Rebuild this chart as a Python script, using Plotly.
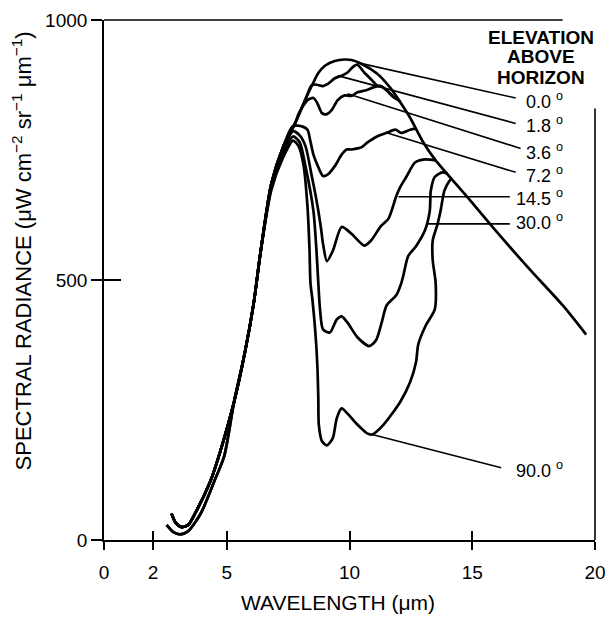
import plotly.graph_objects as go

# ---------------- data (wavelength in um, radiance in uW cm-2 sr-1 um-1) ----------------
# two visible starts at the short-wavelength end
wl_start_upper = [2.75, 2.91, 3.15, 3.43, 3.71, 4.34, 4.74, 5.30]
rad_start_upper = [51, 34, 25, 29, 51, 114, 171, 266]
wl_start_lower = [2.55, 2.83, 3.11, 3.43, 3.94, 4.50, 4.90, 5.30]
rad_start_lower = [29, 15, 11, 17, 51, 114, 162, 266]
# shared steep rise
wl_rise = [5.74, 6.10, 6.37]
rad_rise = [361, 456, 551]

elevations = ["0.0", "1.8", "3.6", "7.2", "14.5", "30.0", "90.0"]
start_branch = ["upper", "upper", "upper", "upper", "upper", "lower", "lower"]

wl_e00 = [6.81, 7.29, 7.81, 8.21, 8.49, 8.73, 9.00, 9.40, 9.80, 10.08, 10.48, 11.12, 11.67,
          12.07, 12.47, 12.99, 13.51, 14.70, 16.06, 17.37, 18.69, 19.64]
rad_e00 = [684, 755, 804, 848, 876, 898, 912, 921, 924, 923, 916, 897, 869,
           842, 812, 766, 730, 665, 589, 519, 451, 395]

wl_e18 = [6.81, 7.29, 7.81, 8.21, 8.45, 8.61, 8.92, 9.12, 9.40, 9.68, 9.92, 10.12, 10.32,
          10.60, 10.92, 11.12, 11.27, 11.51, 11.79, 11.99, 12.07]
rad_e18 = [684, 755, 804, 848, 874, 876, 873, 877, 888, 893, 899, 909, 914,
           899, 884, 874, 873, 865, 852, 846, 842]

wl_e36 = [6.81, 7.29, 7.81, 7.93, 8.29, 8.53, 8.69, 8.88, 9.08, 9.28, 9.52, 9.80, 10.08,
          10.32, 10.68, 11.00, 11.27, 11.51, 11.79, 11.99]
rad_e36 = [684, 755, 804, 820, 846, 850, 840, 821, 819, 827, 846, 855, 854,
           861, 865, 871, 873, 865, 852, 846]

wl_e72 = [6.81, 7.29, 7.69, 8.09, 8.29, 8.41, 8.53, 8.73, 8.92, 9.12, 9.40, 9.68, 9.88,
          10.08, 10.32, 10.48, 10.72, 11.12, 11.51, 11.87, 12.11, 12.47, 12.71]
rad_e72 = [684, 755, 796, 795, 789, 766, 741, 717, 700, 703, 719, 741, 751,
           751, 753, 755, 764, 776, 783, 789, 783, 789, 791]

wl_e145 = [6.81, 7.29, 7.70, 7.97, 8.21, 8.45, 8.61, 8.73, 8.84, 8.92, 9.08, 9.32, 9.68,
           10.08, 10.60, 10.88, 11.27, 11.59, 11.91, 12.07, 12.31, 12.67, 13.07, 13.51]
rad_e145 = [680, 748, 786, 778, 757, 703, 665, 633, 599, 570, 536, 556, 602,
            589, 566, 576, 603, 618, 662, 679, 698, 726, 732, 730]

wl_e300 = [6.81, 7.29, 7.70, 7.97, 8.21, 8.53, 8.65, 8.73, 8.80, 8.92, 9.20, 9.48, 9.68,
           9.92, 10.32, 10.80, 11.08, 11.31, 11.51, 11.91, 12.11, 12.19, 12.39, 12.71,
           13.07, 13.27, 13.31, 13.47, 13.78, 13.98]
rad_e300 = [676, 742, 776, 765, 718, 633, 560, 494, 443, 405, 399, 424, 430,
            418, 390, 373, 384, 418, 451, 471, 494, 508, 546, 565,
            595, 633, 671, 698, 707, 705]

wl_e900 = [6.81, 7.29, 7.70, 7.93, 8.13, 8.29, 8.37, 8.41, 8.49, 8.61, 8.69, 8.73, 8.75,
           8.88, 9.08, 9.32, 9.48, 9.68, 9.92, 10.32, 10.72, 10.92, 11.39, 12.07, 12.47,
           12.71, 12.80, 13.11, 13.47, 13.51, 13.39, 13.39, 13.59, 13.71, 13.86, 14.06, 14.18]
rad_e900 = [672, 735, 768, 757, 720, 640, 560, 494, 462, 399, 336, 272, 222,
            190, 182, 196, 234, 253, 243, 222, 205, 203, 222, 266, 304,
            342, 376, 413, 443, 494, 538, 576, 608, 633, 671, 690, 696]

curve_wl = [wl_e00, wl_e18, wl_e36, wl_e72, wl_e145, wl_e300, wl_e900]
curve_rad = [rad_e00, rad_e18, rad_e36, rad_e72, rad_e145, rad_e300, rad_e900]

# leader lines: point on curve -> label
leader_curve_wl = [10.32, 9.52, 9.92, 11.51, 11.99, 13.19, 10.92]
leader_curve_rad = [918, 893, 858, 783, 660, 608, 203]
leader_label_wl = [16.77, 16.77, 16.97, 16.77, 16.53, 16.53, 16.18]
leader_label_rad = [850, 801, 753, 707, 660, 608, 139]
label_rad = [846, 800, 747, 703, 658, 612, 135]

header_lines = ["ELEVATION", "ABOVE", "HORIZON"]
header_rad = [967, 929, 889]

x_ticks = [0, 2, 5, 10, 15, 20]
y_ticks = [0, 500, 1000]

FONT = "Liberation Sans, Arial, Helvetica, sans-serif"

fig = go.Figure()

for i, name in enumerate(elevations):
    if start_branch[i] == "upper":
        xs = wl_start_upper + wl_rise + curve_wl[i]
        ys = rad_start_upper + rad_rise + curve_rad[i]
    else:
        xs = wl_start_lower + wl_rise + curve_wl[i]
        ys = rad_start_lower + rad_rise + curve_rad[i]
    fig.add_trace(go.Scatter(x=xs, y=ys, mode="lines", name=name + "°",
                             line=dict(color="black", width=2.7, shape="spline", smoothing=0.7),
                             hoverinfo="skip"))

for i, name in enumerate(elevations):
    fig.add_trace(go.Scatter(x=[leader_curve_wl[i], leader_label_wl[i]],
                             y=[leader_curve_rad[i], leader_label_rad[i]],
                             mode="lines", line=dict(color="black", width=1.6),
                             hoverinfo="skip"))
    fig.add_annotation(x=18.73, y=label_rad[i], xref="x", yref="y",
                       text=name + " <sup>o</sup>", showarrow=False,
                       xanchor="right", yanchor="middle", borderpad=0,
                       font=dict(family=FONT, size=18, color="black"))

# dummy trace for the overlay axes (inside ticks)
fig.add_trace(go.Scatter(x=[None], y=[None], xaxis="x2", yaxis="y2", hoverinfo="skip"))

for txt, yv in zip(header_lines, header_rad):
    fig.add_annotation(x=17.8, y=yv, xref="x", yref="y",
                       text="<b>" + txt + "</b>", showarrow=False,
                       xanchor="center", yanchor="middle", borderpad=0,
                       font=dict(family=FONT, size=19, color="black"))

fig.add_annotation(x=0.476, y=-0.12, xref="paper", yref="paper",
                   text="WAVELENGTH (μm)", showarrow=False,
                   xanchor="center", yanchor="middle",
                   font=dict(family=FONT, size=21, color="black"))
fig.add_annotation(x=-0.167, y=0.555, xref="paper", yref="paper",
                   text="SPECTRAL RADIANCE (μW cm<sup>−2</sup> sr<sup>−1</sup> μm<sup>−1</sup>)",
                   textangle=-90, showarrow=False,
                   xanchor="center", yanchor="middle",
                   font=dict(family=FONT, size=22, color="black"))

# partial frame (top and right), interrupted by the header block
fig.add_shape(type="line", xref="paper", yref="paper", x0=0, x1=0.934, y0=1, y1=1,
              line=dict(color="black", width=1.6))
fig.add_shape(type="line", xref="paper", yref="paper", x0=1, x1=1, y0=0, y1=0.83,
              line=dict(color="black", width=1.6))

axis_common = dict(showgrid=False, zeroline=False, color="black")
fig.update_layout(
    width=616, height=620,
    margin=dict(l=104, r=10, t=14, b=80),
    plot_bgcolor="white", paper_bgcolor="white",
    showlegend=False,
    font=dict(family=FONT, size=19, color="black"),
    xaxis=dict(range=[0, 20], tickvals=x_ticks, ticks="outside", ticklen=8, tickwidth=1.5,
               tickcolor="black", showline=True, linewidth=1.6, linecolor="black",
               ticklabelstandoff=6, ticklabeloverflow="allow",
               tickfont=dict(size=19), **axis_common),
    yaxis=dict(range=[0, 1000], tickvals=y_ticks, ticks="outside", ticklen=11, tickwidth=1.5,
               tickcolor="black", showline=True, linewidth=1.6, linecolor="black",
               ticklabeloverflow="allow", tickfont=dict(size=19), **axis_common),
    xaxis2=dict(range=[0, 20], tickvals=x_ticks[1:-1], ticks="inside", ticklen=9, tickwidth=1.5,
                tickcolor="black", showticklabels=False, overlaying="x", showline=False,
                **axis_common),
    yaxis2=dict(range=[0, 1000], tickvals=[500], ticks="inside", ticklen=17, tickwidth=1.5,
                tickcolor="black", showticklabels=False, overlaying="y", showline=False,
                **axis_common),
)

fig.write_html("out.html")
